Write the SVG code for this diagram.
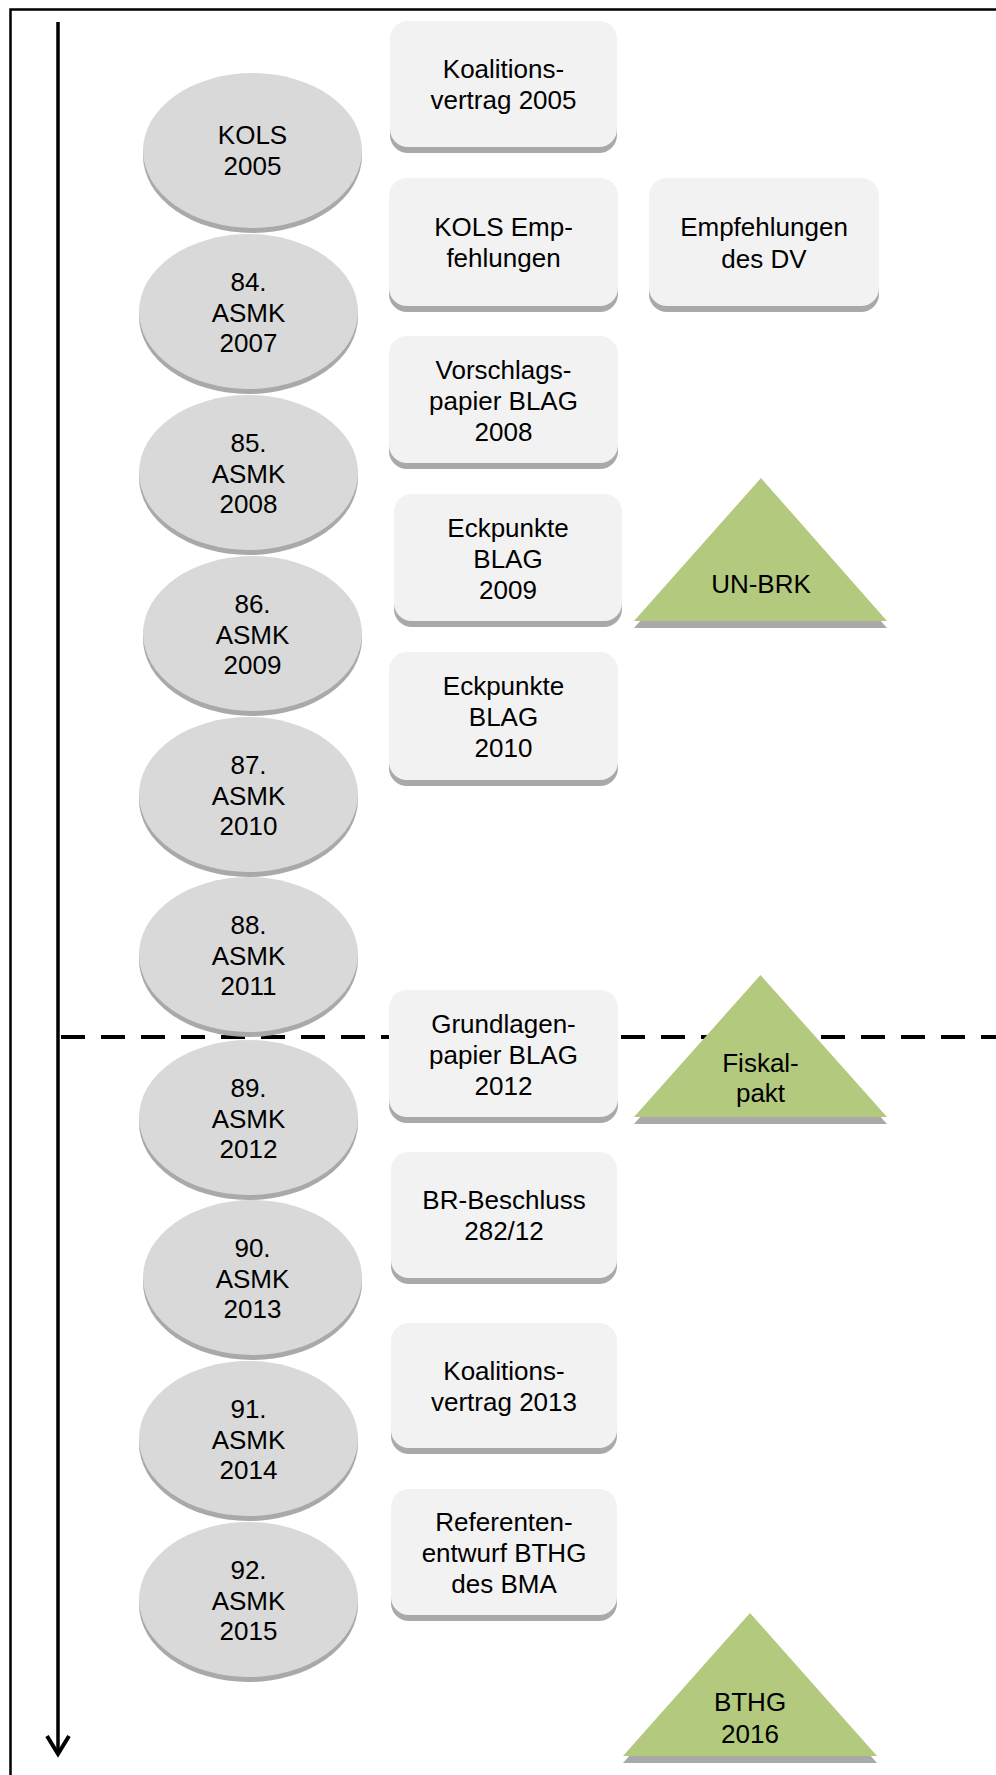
<svg xmlns="http://www.w3.org/2000/svg" width="996" height="1775" viewBox="0 0 996 1775">
<style>
text{font-family:"Liberation Sans",Arial,sans-serif;font-size:26px;fill:#000;text-anchor:middle}
.ell{fill:#d9d9d9}
.esh{fill:#a9a9a9}
.box{fill:#f2f2f2}
.bsh{fill:#a9a9a9}
.tri{fill:#b2c97e}
.tsh{fill:#a9a9a9}
</style>
<rect x="10.5" y="9.5" width="1000" height="1800" fill="#fff" stroke="#000" stroke-width="2.5"/>
<g id="connectors">
<line x1="58" y1="22" x2="58" y2="1754" stroke="#000" stroke-width="3.5"/>
<path d="M47,1736 L58,1754 L69,1736" fill="none" stroke="#000" stroke-width="4"/>
<line x1="61" y1="1037" x2="996" y2="1037" stroke="#000" stroke-width="4" stroke-dasharray="24 16"/>
</g>
<g id="e-kols2005">
<ellipse class="esh" cx="252.5" cy="155.5" rx="109.5" ry="77.5"/>
<ellipse class="ell" cx="252.5" cy="150.5" rx="109.5" ry="77.5"/>
<text x="252.5" y="143.5">KOLS</text><text x="252.5" y="175">2005</text>
</g>
<g id="e-asmk84">
<ellipse class="esh" cx="248.5" cy="316.5" rx="109.5" ry="77.5"/>
<ellipse class="ell" cx="248.5" cy="311.5" rx="109.5" ry="77.5"/>
<text x="248.5" y="291">84.</text><text x="248.5" y="321.5">ASMK</text><text x="248.5" y="352">2007</text>
</g>
<g id="e-asmk85">
<ellipse class="esh" cx="248.5" cy="477.5" rx="109.5" ry="77.5"/>
<ellipse class="ell" cx="248.5" cy="472.5" rx="109.5" ry="77.5"/>
<text x="248.5" y="452">85.</text><text x="248.5" y="482.5">ASMK</text><text x="248.5" y="513">2008</text>
</g>
<g id="e-asmk86">
<ellipse class="esh" cx="252.5" cy="638.5" rx="109.5" ry="77.5"/>
<ellipse class="ell" cx="252.5" cy="633.5" rx="109.5" ry="77.5"/>
<text x="252.5" y="613">86.</text><text x="252.5" y="643.5">ASMK</text><text x="252.5" y="674">2009</text>
</g>
<g id="e-asmk87">
<ellipse class="esh" cx="248.5" cy="799.5" rx="109.5" ry="77.5"/>
<ellipse class="ell" cx="248.5" cy="794.5" rx="109.5" ry="77.5"/>
<text x="248.5" y="774">87.</text><text x="248.5" y="804.5">ASMK</text><text x="248.5" y="835">2010</text>
</g>
<g id="e-asmk88">
<ellipse class="esh" cx="248.5" cy="959.5" rx="109.5" ry="77.5"/>
<ellipse class="ell" cx="248.5" cy="954.5" rx="109.5" ry="77.5"/>
<text x="248.5" y="934">88.</text><text x="248.5" y="964.5">ASMK</text><text x="248.5" y="995">2011</text>
</g>
<g id="e-asmk89">
<ellipse class="esh" cx="248.5" cy="1122.5" rx="109.5" ry="77.5"/>
<ellipse class="ell" cx="248.5" cy="1117.5" rx="109.5" ry="77.5"/>
<text x="248.5" y="1097">89.</text><text x="248.5" y="1127.5">ASMK</text><text x="248.5" y="1158">2012</text>
</g>
<g id="e-asmk90">
<ellipse class="esh" cx="252.5" cy="1282.5" rx="109.5" ry="77.5"/>
<ellipse class="ell" cx="252.5" cy="1277.5" rx="109.5" ry="77.5"/>
<text x="252.5" y="1257">90.</text><text x="252.5" y="1287.5">ASMK</text><text x="252.5" y="1318">2013</text>
</g>
<g id="e-asmk91">
<ellipse class="esh" cx="248.5" cy="1443.5" rx="109.5" ry="77.5"/>
<ellipse class="ell" cx="248.5" cy="1438.5" rx="109.5" ry="77.5"/>
<text x="248.5" y="1418">91.</text><text x="248.5" y="1448.5">ASMK</text><text x="248.5" y="1479">2014</text>
</g>
<g id="e-asmk92">
<ellipse class="esh" cx="248.5" cy="1604.5" rx="109.5" ry="77.5"/>
<ellipse class="ell" cx="248.5" cy="1599.5" rx="109.5" ry="77.5"/>
<text x="248.5" y="1579">92.</text><text x="248.5" y="1609.5">ASMK</text><text x="248.5" y="1640">2015</text>
</g>
<g id="b-koalitions2005">
<rect class="bsh" x="390" y="27" width="227" height="126" rx="18"/>
<rect class="box" x="390" y="21" width="227" height="126" rx="18"/>
<text x="503.5" y="78">Koalitions-</text><text x="503.5" y="109">vertrag 2005</text>
</g>
<g id="b-kolsempf">
<rect class="bsh" x="389" y="184" width="229" height="128" rx="18"/>
<rect class="box" x="389" y="178" width="229" height="128" rx="18"/>
<text x="503.5" y="235.5">KOLS Emp-</text><text x="503.5" y="267">fehlungen</text>
</g>
<g id="b-empfdv">
<rect class="bsh" x="649" y="184" width="230" height="128" rx="18"/>
<rect class="box" x="649" y="178" width="230" height="128" rx="18"/>
<text x="764" y="236">Empfehlungen</text><text x="764" y="268">des DV</text>
</g>
<g id="b-vorschlag">
<rect class="bsh" x="389" y="342" width="229" height="127" rx="18"/>
<rect class="box" x="389" y="336" width="229" height="127" rx="18"/>
<text x="503.5" y="378.5">Vorschlags-</text><text x="503.5" y="409.5">papier BLAG</text><text x="503.5" y="440.5">2008</text>
</g>
<g id="b-eck2009">
<rect class="bsh" x="394" y="500" width="228" height="127" rx="18"/>
<rect class="box" x="394" y="494" width="228" height="127" rx="18"/>
<text x="508" y="536.5">Eckpunkte</text><text x="508" y="567.5">BLAG</text><text x="508" y="598.5">2009</text>
</g>
<g id="b-eck2010">
<rect class="bsh" x="389" y="658" width="229" height="128" rx="18"/>
<rect class="box" x="389" y="652" width="229" height="128" rx="18"/>
<text x="503.5" y="695">Eckpunkte</text><text x="503.5" y="726">BLAG</text><text x="503.5" y="757">2010</text>
</g>
<g id="t-unbrk">
<polygon class="tsh" points="761,485 887,628 634,628"/>
<polygon class="tri" points="761,478 887,621 634,621"/>
<text x="761" y="593">UN-BRK</text>
</g>
<g id="b-grundlagen">
<rect class="bsh" x="389" y="996" width="229" height="127" rx="18"/>
<rect class="box" x="389" y="990" width="229" height="127" rx="18"/>
<text x="503.5" y="1032.5">Grundlagen-</text><text x="503.5" y="1063.5">papier BLAG</text><text x="503.5" y="1094.5">2012</text>
</g>
<g id="t-fiskal">
<polygon class="tsh" points="760.5,982 887,1124 634,1124"/>
<polygon class="tri" points="760.5,975 887,1117 634,1117"/>
<text x="760.5" y="1071.5">Fiskal-</text><text x="760.5" y="1101.5">pakt</text>
</g>
<g id="b-brbeschluss">
<rect class="bsh" x="391" y="1158" width="226" height="126" rx="18"/>
<rect class="box" x="391" y="1152" width="226" height="126" rx="18"/>
<text x="504" y="1209">BR-Beschluss</text><text x="504" y="1240">282/12</text>
</g>
<g id="b-koalitions2013">
<rect class="bsh" x="391" y="1329" width="226" height="125" rx="18"/>
<rect class="box" x="391" y="1323" width="226" height="125" rx="18"/>
<text x="504" y="1379.5">Koalitions-</text><text x="504" y="1410.5">vertrag 2013</text>
</g>
<g id="b-referenten">
<rect class="bsh" x="391" y="1495" width="226" height="126" rx="18"/>
<rect class="box" x="391" y="1489" width="226" height="126" rx="18"/>
<text x="504" y="1531">Referenten-</text><text x="504" y="1562">entwurf BTHG</text><text x="504" y="1593">des BMA</text>
</g>
<g id="t-bthg">
<polygon class="tsh" points="750,1620 877,1763 623,1763"/>
<polygon class="tri" points="750,1613 877,1756 623,1756"/>
<text x="750" y="1710.5">BTHG</text><text x="750" y="1742.5">2016</text>
</g>
</svg>
